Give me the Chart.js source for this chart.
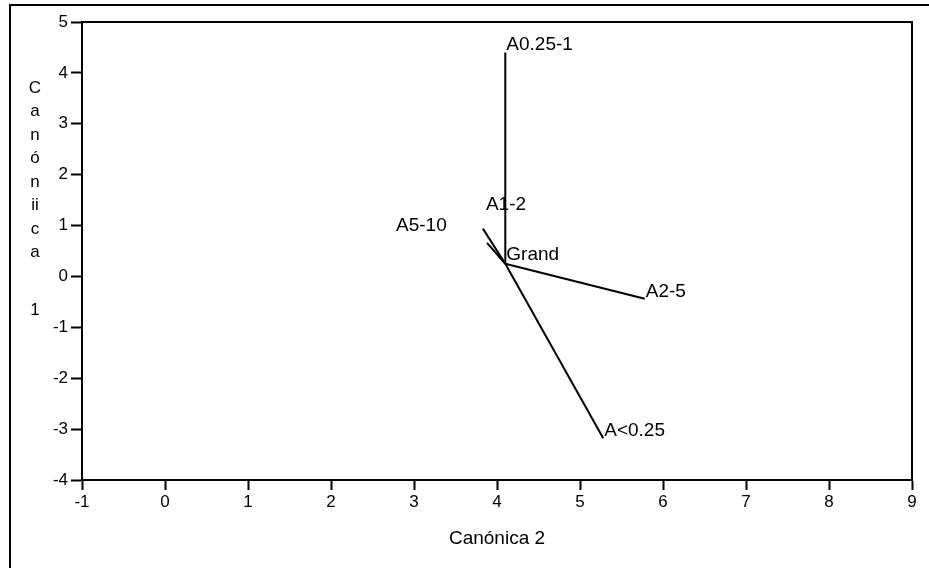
<!DOCTYPE html>
<html>
<head>
<meta charset="utf-8">
<script src="https://cdn.jsdelivr.net/npm/chart.js@4/dist/chart.umd.min.js"></script>
<style>
  html, body { margin: 0; padding: 0; background: #fff; }
  #wrap { width: 929px; height: 568px; position: relative; }
</style>
</head>
<body>
<div id="wrap"><canvas id="chart"></canvas></div>
<script>
// group centroids (canonical 2, canonical 1)
const names = ['A0.25-1', 'A1-2', 'A2-5', 'A5-10', 'A<0.25'];
const canon2 = [4.10, 3.83, 5.78, 3.88, 5.28];
const canon1 = [4.40, 0.94, -0.44, 0.66, -3.18];
const grand = [4.10, 0.25];
const xTicks = [-1, 0, 1, 2, 3, 4, 5, 6, 7, 8, 9];
const yTicks = [-4, -3, -2, -1, 0, 1, 2, 3, 4, 5];
const yTitle = ['C', 'a', 'n', 'ó', 'n', 'ii', 'c', 'a'];
const yTitleNum = '1';

const FONT = '"Liberation Sans", Arial, sans-serif';

const datasets = names.map((n, i) => ({
    label: n,
    data: [{x: grand[0], y: grand[1]}, {x: canon2[i], y: canon1[i]}],
    showLine: true,
    borderColor: '#000',
    borderWidth: 2,
    pointRadius: 0,
    fill: false
}));

// label nudges where the original moved text off the line end
const nudge = { 'A1-2': [2, -16], 'A5-10': [-92, -10] };

const decor = {
    id: 'decor',
    afterDraw(chart) {
        const ctx = chart.ctx, a = chart.chartArea;
        const sx = chart.scales.x, sy = chart.scales.y;
        ctx.save();
        // page frame
        ctx.strokeStyle = '#000';
        ctx.lineWidth = 2;
        ctx.beginPath();
        ctx.moveTo(10, 568); ctx.lineTo(10, 5); ctx.lineTo(929, 5);
        ctx.stroke();
        // plot box
        ctx.strokeRect(a.left, a.top, a.right - a.left, a.bottom - a.top);

        ctx.fillStyle = '#000';
        ctx.font = '19px ' + FONT;
        ctx.textAlign = 'left';
        ctx.textBaseline = 'bottom';
        names.forEach((n, i) => {
            const d = nudge[n] || [0, 0];
            ctx.fillText(n, sx.getPixelForValue(canon2[i]) + 1 + d[0], sy.getPixelForValue(canon1[i]) + 2 + d[1]);
        });
        ctx.fillText('Grand', sx.getPixelForValue(grand[0]) + 1, sy.getPixelForValue(grand[1]) + 1);

        // stacked y title
        ctx.textAlign = 'center';
        ctx.textBaseline = 'middle';
        ctx.font = '17px ' + FONT;
        yTitle.forEach((c, i) => ctx.fillText(c, 35, 88 + i * 23.5));
        ctx.fillText(yTitleNum, 35, 310);
        ctx.restore();
    }
};

new Chart(document.getElementById('chart'), {
    type: 'scatter',
    data: { datasets: datasets },
    options: {
        responsive: true,
        maintainAspectRatio: false,
        animation: false,
        layout: { padding: { top: 22, right: 17, left: 0, bottom: 0 } },
        plugins: { legend: { display: false }, tooltip: { enabled: false } },
        scales: {
            x: {
                type: 'linear',
                min: -1, max: 9,
                afterFit: s => { s.height = 88; },
                afterBuildTicks: s => { s.ticks = xTicks.map(v => ({value: v})); },
                grid: { drawOnChartArea: false, color: '#000', tickLength: 10, tickWidth: 2 },
                border: { display: true, color: '#000', width: 2 },
                ticks: { color: '#000', font: { family: FONT, size: 17 }, padding: 2, maxRotation: 0 },
                title: { display: true, text: 'Canónica 2', color: '#000',
                         font: { family: FONT, size: 19 }, padding: { top: 4, bottom: 18 } }
            },
            y: {
                type: 'linear',
                min: -4, max: 5,
                afterFit: s => { s.width = 82; },
                afterBuildTicks: s => { s.ticks = yTicks.map(v => ({value: v})); },
                grid: { drawOnChartArea: false, color: '#000', tickLength: 11, tickWidth: 2 },
                border: { display: true, color: '#000', width: 2 },
                ticks: { color: '#000', font: { family: FONT, size: 17 }, padding: 3 }
            }
        }
    },
    plugins: [decor]
});
</script>
</body>
</html>
